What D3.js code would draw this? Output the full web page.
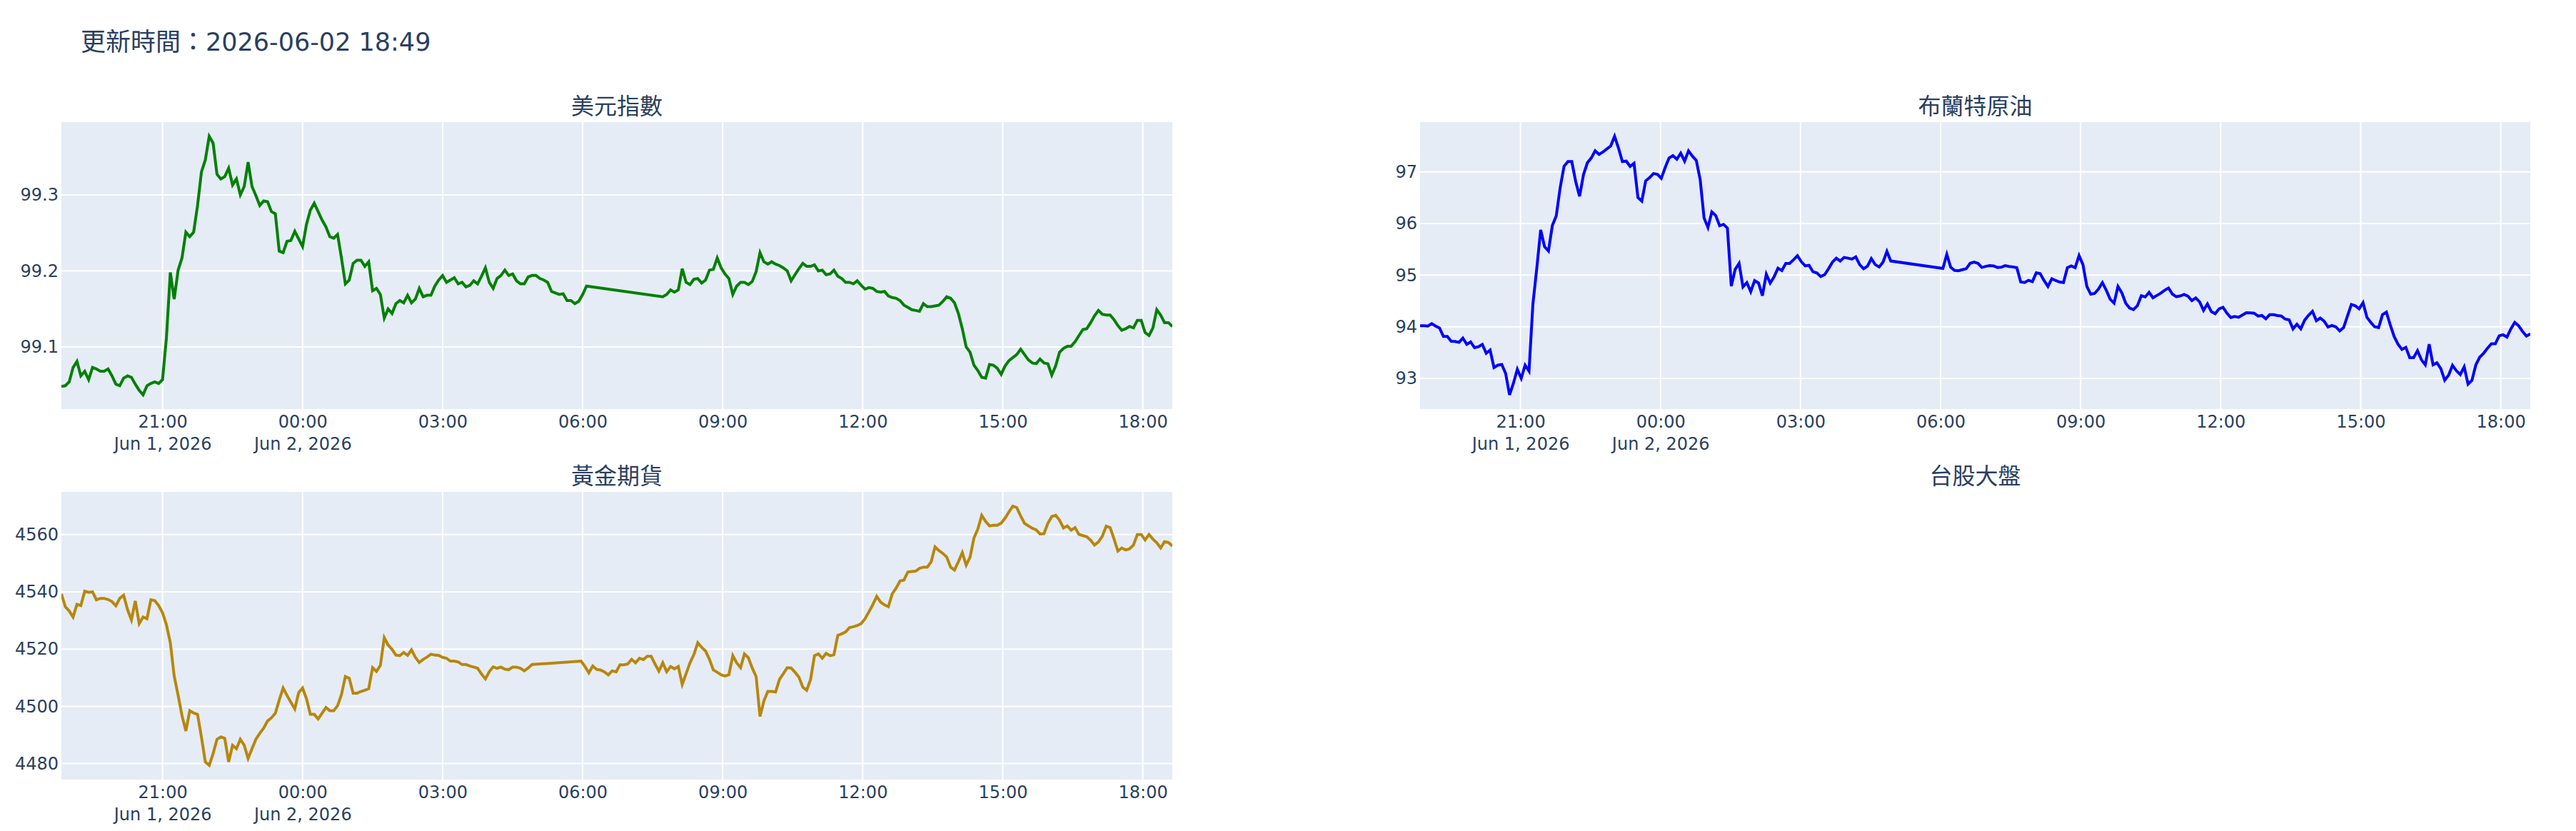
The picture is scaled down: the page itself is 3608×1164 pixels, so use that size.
<!DOCTYPE html>
<html>
<head>
<meta charset="utf-8">
<script src="https://cdn.jsdelivr.net/npm/d3@7"></script>
<style>
  body { margin: 0; background: #ffffff; }
  text { font-family: Verdana, "DejaVu Sans", "Noto Sans CJK TC", sans-serif; fill: #2a3f5f; }
</style>
</head>
<body>
<svg id="chart"></svg>
<script>
// header
var updateText = "更新時間：2026-06-02 18:49";
var titles = ["美元指數", "布蘭特原油", "黃金期貨", "台股大盤"];
// every series is sampled every 5 minutes, split where the feed has a gap
var stepMinutes = 5;

// 美元指數
var usdStartA = "2026-06-01 18:50";
var usdA = [
  99.048, 99.049, 99.054, 99.073, 99.081, 99.062, 99.068, 99.057, 99.073, 99.071,
  99.068, 99.068, 99.071, 99.062, 99.051, 99.049, 99.059, 99.062, 99.060, 99.051,
  99.043, 99.037, 99.049, 99.052, 99.054, 99.052, 99.057, 99.112, 99.198, 99.163,
  99.201, 99.217, 99.251, 99.245, 99.251, 99.286, 99.330, 99.346, 99.377, 99.368,
  99.327, 99.321, 99.324, 99.335, 99.313, 99.321, 99.300, 99.311, 99.343, 99.311,
  99.299, 99.286, 99.292, 99.291, 99.278, 99.275, 99.226, 99.224, 99.239, 99.240,
  99.252, 99.242, 99.232, 99.261, 99.280, 99.289, 99.278, 99.267, 99.258, 99.245,
  99.243, 99.248, 99.217, 99.183, 99.188, 99.210, 99.214, 99.214, 99.206, 99.212,
  99.174, 99.177, 99.169, 99.138, 99.150, 99.144, 99.157, 99.161, 99.158, 99.168,
  99.158, 99.163, 99.177, 99.166, 99.168, 99.168, 99.180, 99.188, 99.194, 99.185,
  99.188, 99.191, 99.183, 99.185, 99.179, 99.181, 99.187, 99.183, 99.193, 99.204,
  99.185, 99.177, 99.190, 99.194, 99.201, 99.194, 99.196, 99.187, 99.183, 99.183,
  99.192, 99.194, 99.194, 99.190, 99.188, 99.185, 99.173, 99.171, 99.169, 99.170,
  99.161, 99.161, 99.157, 99.160, 99.169, 99.180
];
var usdStartB = "2026-06-02 07:43";
var usdB = [
  99.166, 99.169, 99.175, 99.172, 99.175, 99.203, 99.185, 99.182, 99.189, 99.190,
  99.184, 99.188, 99.201, 99.202, 99.217, 99.204, 99.196, 99.190, 99.169, 99.180,
  99.185, 99.185, 99.182, 99.186, 99.199, 99.224, 99.212, 99.209, 99.212, 99.209,
  99.207, 99.204, 99.200, 99.187, 99.195, 99.203, 99.210, 99.206, 99.206, 99.208,
  99.200, 99.201, 99.195, 99.196, 99.201, 99.193, 99.190, 99.185, 99.185, 99.183,
  99.187, 99.181, 99.176, 99.178, 99.177, 99.173, 99.172, 99.173, 99.167, 99.165,
  99.164, 99.161, 99.155, 99.152, 99.149, 99.148, 99.147, 99.157, 99.153, 99.153,
  99.154, 99.155, 99.160, 99.166, 99.164, 99.158, 99.144, 99.124, 99.100, 99.093,
  99.076, 99.069, 99.060, 99.059, 99.077, 99.076, 99.072, 99.064, 99.075, 99.082,
  99.086, 99.090, 99.097, 99.090, 99.083, 99.079, 99.078, 99.084, 99.079, 99.078,
  99.063, 99.075, 99.093, 99.098, 99.101, 99.101, 99.107, 99.115, 99.123, 99.124,
  99.132, 99.141, 99.148, 99.143, 99.142, 99.142, 99.136, 99.128, 99.122, 99.124,
  99.127, 99.125, 99.135, 99.135, 99.119, 99.115, 99.125, 99.149, 99.142, 99.132,
  99.132, 99.127
];

// 布蘭特原油
var brentStartA = "2026-06-01 18:51";
var brentA = [
  94.021, 94.021, 94.012, 94.058, 94.012, 93.975, 93.812, 93.812, 93.719, 93.715,
  93.696, 93.780, 93.659, 93.705, 93.594, 93.612, 93.659, 93.487, 93.548, 93.209,
  93.255, 93.269, 93.093, 92.680, 92.907, 93.176, 93.000, 93.255, 93.139, 94.439,
  95.134, 95.877, 95.552, 95.469, 95.961, 96.146, 96.689, 97.107, 97.200, 97.200,
  96.814, 96.527, 96.944, 97.176, 97.269, 97.408, 97.339, 97.385, 97.445, 97.501,
  97.690, 97.464, 97.200, 97.209, 97.107, 97.167, 96.503, 96.434, 96.828, 96.889,
  96.968, 96.954, 96.875, 97.084, 97.269, 97.316, 97.246, 97.362, 97.209, 97.408,
  97.306, 97.223, 96.852, 96.109, 95.923, 96.225, 96.155, 95.956, 95.984, 95.914,
  94.787, 95.111, 95.227, 94.773, 94.856, 94.680, 94.893, 94.847, 94.601, 95.019,
  94.847, 94.968, 95.135, 95.088, 95.227, 95.227, 95.297, 95.376, 95.260, 95.181,
  95.190, 95.065, 95.042, 94.972, 95.009, 95.125, 95.251, 95.329, 95.274, 95.343,
  95.329, 95.311, 95.353, 95.204, 95.125, 95.172, 95.320, 95.204, 95.158, 95.251,
  95.459, 95.274
];
var brentStartB = "2026-06-02 06:03";
var brentB = [
  95.130, 95.403, 95.154, 95.090, 95.085, 95.105, 95.125, 95.229, 95.254, 95.229,
  95.149, 95.169, 95.184, 95.179, 95.149, 95.154, 95.184, 95.169, 95.159, 95.144,
  94.866, 94.856, 94.900, 94.875, 95.045, 95.030, 94.895, 94.781, 94.930, 94.895,
  94.866, 94.856, 95.144, 95.179, 95.144, 95.380, 95.204, 94.781, 94.631, 94.646,
  94.731, 94.856, 94.706, 94.532, 94.457, 94.781, 94.656, 94.457, 94.362, 94.332,
  94.407, 94.601, 94.577, 94.666, 94.562, 94.606, 94.651, 94.706, 94.751, 94.631,
  94.582, 94.597, 94.626, 94.592, 94.507, 94.557, 94.482, 94.318, 94.442, 94.293,
  94.253, 94.347, 94.377, 94.263, 94.178, 94.198, 94.183, 94.228, 94.273, 94.268,
  94.263, 94.208, 94.218, 94.153, 94.233, 94.233, 94.218, 94.208, 94.148, 94.133,
  93.959, 94.049, 93.959, 94.128, 94.223, 94.298, 94.118, 94.168, 94.108, 93.994,
  94.024, 93.999, 93.919, 93.984, 94.208, 94.432, 94.407, 94.347, 94.467, 94.183,
  94.083, 93.999, 93.984, 94.233, 94.283, 94.034, 93.809, 93.660, 93.560, 93.600,
  93.401, 93.401, 93.535, 93.361, 93.262, 93.660, 93.262, 93.301, 93.187, 92.963,
  93.062, 93.252, 93.147, 93.072, 93.222, 92.888, 92.963, 93.262, 93.411, 93.486,
  93.585, 93.670, 93.670, 93.824, 93.844, 93.800, 93.959, 94.083, 94.019, 93.909,
  93.819, 93.859
];

// 黃金期貨
var goldStartA = "2026-06-01 18:50";
var goldA = [
  4539.3, 4534.8, 4533.3, 4531.2, 4535.6, 4535.2, 4540.2, 4539.8, 4540.0, 4537.2,
  4537.7, 4537.7, 4537.3, 4536.6, 4535.1, 4537.7, 4538.8, 4533.8, 4530.2, 4536.8,
  4528.9, 4531.2, 4530.6, 4537.2, 4536.9, 4535.2, 4532.7, 4528.5, 4522.2, 4510.6,
  4503.9, 4496.8, 4491.4, 4498.5, 4497.7, 4497.2, 4489.3, 4480.6, 4479.4, 4483.5,
  4488.5, 4489.3, 4488.8, 4480.6, 4486.4, 4485.2, 4488.5, 4486.4, 4481.8, 4485.2,
  4488.5, 4490.6, 4492.4, 4494.9, 4496.0, 4497.6, 4502.2, 4506.4, 4503.8, 4501.4,
  4499.1, 4504.8, 4506.4, 4502.7, 4497.2, 4497.2, 4495.6, 4497.6, 4499.6, 4498.5,
  4498.5, 4500.2, 4504.1, 4510.4, 4509.8, 4504.6, 4504.6, 4505.2, 4505.6, 4506.2,
  4513.5, 4512.2, 4514.3, 4524.0, 4521.4, 4519.9, 4517.9, 4517.7, 4518.8, 4517.8,
  4519.7, 4517.1, 4515.3, 4516.4, 4517.2, 4518.2, 4517.9, 4517.8, 4517.1, 4516.8,
  4515.8, 4515.8, 4515.5, 4514.6, 4514.6, 4514.1, 4513.7, 4513.3, 4511.3, 4509.6,
  4512.1, 4513.8, 4513.3, 4513.7, 4513.0, 4512.8, 4513.7, 4513.7, 4513.3, 4512.4,
  4513.4, 4514.6
];
var goldStartB = "2026-06-02 05:58";
var goldB = [
  4515.8, 4513.9, 4511.7, 4514.1, 4512.9, 4512.7, 4512.0, 4511.0, 4512.4, 4512.0,
  4514.5, 4514.5, 4514.8, 4516.4, 4515.2, 4516.8, 4516.3, 4517.5, 4517.5, 4514.8,
  4512.3, 4515.2, 4512.1, 4513.9, 4513.1, 4513.9, 4507.7, 4511.4, 4515.2, 4518.1,
  4522.2, 4520.6, 4519.3, 4516.4, 4512.7, 4511.9, 4511.0, 4510.6, 4511.0, 4517.7,
  4515.2, 4513.5, 4518.3, 4517.0, 4513.4, 4510.4, 4496.5, 4501.9, 4505.2, 4505.2,
  4505.0, 4509.4, 4511.4, 4513.5, 4513.4, 4511.9, 4510.2, 4506.7, 4505.6, 4509.4,
  4517.7, 4518.3, 4516.8, 4518.5, 4517.7, 4518.0, 4524.8, 4525.3, 4526.0, 4527.5,
  4527.8, 4528.2, 4528.9, 4530.6, 4533.0, 4535.5, 4538.4, 4536.4, 4535.4, 4534.8,
  4539.3, 4541.3, 4543.8, 4544.1, 4546.9, 4547.1, 4547.2, 4548.2, 4548.6, 4548.6,
  4550.5, 4555.7, 4554.4, 4553.4, 4552.1, 4548.6, 4547.6, 4550.5, 4553.7, 4549.3,
  4552.1, 4558.8, 4561.9, 4566.7, 4564.6, 4563.0, 4563.2, 4563.2, 4564.0, 4565.7,
  4567.9, 4569.9, 4569.4, 4566.5, 4563.9, 4563.0, 4562.2, 4561.6, 4560.2, 4560.3,
  4563.9, 4566.3, 4566.7, 4565.0, 4562.3, 4563.0, 4561.5, 4562.4, 4560.0, 4559.6,
  4559.2, 4558.0, 4556.3, 4557.4, 4559.4, 4562.9, 4562.4, 4558.5, 4554.2, 4555.3,
  4554.6, 4555.0, 4556.3, 4560.0, 4560.0, 4558.1, 4560.0, 4558.4, 4557.1, 4555.3,
  4557.5, 4557.2, 4556.0
];

// y tick labels
var usdTicks = [99.1, 99.2, 99.3];
var brentTicks = [93, 94, 95, 96, 97];
var goldTicks = [4480, 4500, 4520, 4540, 4560];

var width = 3608;
var height = 1164;
var parse = d3.timeParse("%Y-%m-%d %H:%M");
var fmtTime = d3.timeFormat("%H:%M");
var fmtDate = d3.timeFormat("%b %-d, %Y");

function toPoints(start, values) {
  var t0 = parse(start);
  return values.map(function(v, i) {
    return { t: d3.timeMinute.offset(t0, i * stepMinutes), v: v };
  });
}

var svg = d3.select("#chart")
  .attr("width", width)
  .attr("height", height)
  .style("background", "#ffffff");

svg.append("text")
  .attr("x", 113)
  .attr("y", 71)
  .attr("font-size", 35)
  .text(updateText);

// subplot boxes: left, right, top, bottom
var colL = [86, 1642], colR = [1989, 3544];
var row1 = [171, 573], row2 = [689, 1092];

var panels = [
  { title: titles[0], x: colL, y: row1, color: "green", ticks: usdTicks, fmt: d3.format(".1f"),
    data: toPoints(usdStartA, usdA).concat(toPoints(usdStartB, usdB)) },
  { title: titles[1], x: colR, y: row1, color: "blue", ticks: brentTicks, fmt: d3.format("d"),
    data: toPoints(brentStartA, brentA).concat(toPoints(brentStartB, brentB)) },
  { title: titles[2], x: colL, y: row2, color: "darkgoldenrod", ticks: goldTicks, fmt: d3.format("d"),
    data: toPoints(goldStartA, goldA).concat(toPoints(goldStartB, goldB)) },
  { title: titles[3], x: colR, y: row2, data: null }
];

panels.forEach(function(p, idx) {
  var g = svg.append("g");

  // title
  g.append("text")
    .attr("x", (p.x[0] + p.x[1]) / 2)
    .attr("y", p.y[0] - 11)
    .attr("text-anchor", "middle")
    .attr("font-size", 32)
    .text(p.title);

  if (!p.data) return;

  var x = d3.scaleTime()
    .domain(d3.extent(p.data, function(d) { return d.t; }))
    .range(p.x);
  var ext = d3.extent(p.data, function(d) { return d.v; });
  var pad = (ext[1] - ext[0]) * 0.055;
  var y = d3.scaleLinear()
    .domain([ext[0] - pad, ext[1] + pad])
    .range([p.y[1], p.y[0]]);

  g.append("rect")
    .attr("x", p.x[0])
    .attr("y", p.y[0])
    .attr("width", p.x[1] - p.x[0])
    .attr("height", p.y[1] - p.y[0])
    .attr("fill", "#E5ECF6");

  var xTicks = x.ticks(d3.timeHour.every(3));

  // grid
  g.selectAll(".vgrid")
    .data(xTicks)
    .enter()
    .append("line")
    .attr("x1", function(d) { return x(d); })
    .attr("x2", function(d) { return x(d); })
    .attr("y1", p.y[0])
    .attr("y2", p.y[1])
    .attr("stroke", "#ffffff")
    .attr("stroke-width", 2);
  g.selectAll(".hgrid")
    .data(p.ticks)
    .enter()
    .append("line")
    .attr("x1", p.x[0])
    .attr("x2", p.x[1])
    .attr("y1", function(d) { return y(d); })
    .attr("y2", function(d) { return y(d); })
    .attr("stroke", "#ffffff")
    .attr("stroke-width", 2);

  // line
  g.append("clipPath")
    .attr("id", "clip" + idx)
    .append("rect")
    .attr("x", p.x[0])
    .attr("y", p.y[0])
    .attr("width", p.x[1] - p.x[0])
    .attr("height", p.y[1] - p.y[0]);

  var line = d3.line()
    .x(function(d) { return x(d.t); })
    .y(function(d) { return y(d.v); });

  g.append("path")
    .datum(p.data)
    .attr("clip-path", "url(#clip" + idx + ")")
    .attr("fill", "none")
    .attr("stroke", p.color)
    .attr("stroke-width", 4)
    .attr("d", line);

  // x axis labels
  var ax = g.append("g")
    .attr("transform", "translate(0," + p.y[1] + ")")
    .call(d3.axisBottom(x).tickValues(xTicks).tickSize(0).tickPadding(0).tickFormat(fmtTime));
  ax.select(".domain").remove();
  ax.attr("font-family", null).attr("font-size", 24);
  ax.selectAll("text")
    .attr("dy", null)
    .attr("y", 26)
    .each(function(d, i) {
      if (i === 0 || d.getHours() === 0) {
        d3.select(this).append("tspan")
          .attr("x", 0)
          .attr("dy", 31)
          .text(fmtDate(d));
      }
    });

  // y axis labels
  var ay = g.append("g")
    .attr("transform", "translate(" + p.x[0] + ",0)")
    .call(d3.axisLeft(y).tickValues(p.ticks).tickSize(0).tickPadding(4).tickFormat(p.fmt));
  ay.select(".domain").remove();
  ay.attr("font-family", null).attr("font-size", 24);
});
</script>
</body>
</html>
